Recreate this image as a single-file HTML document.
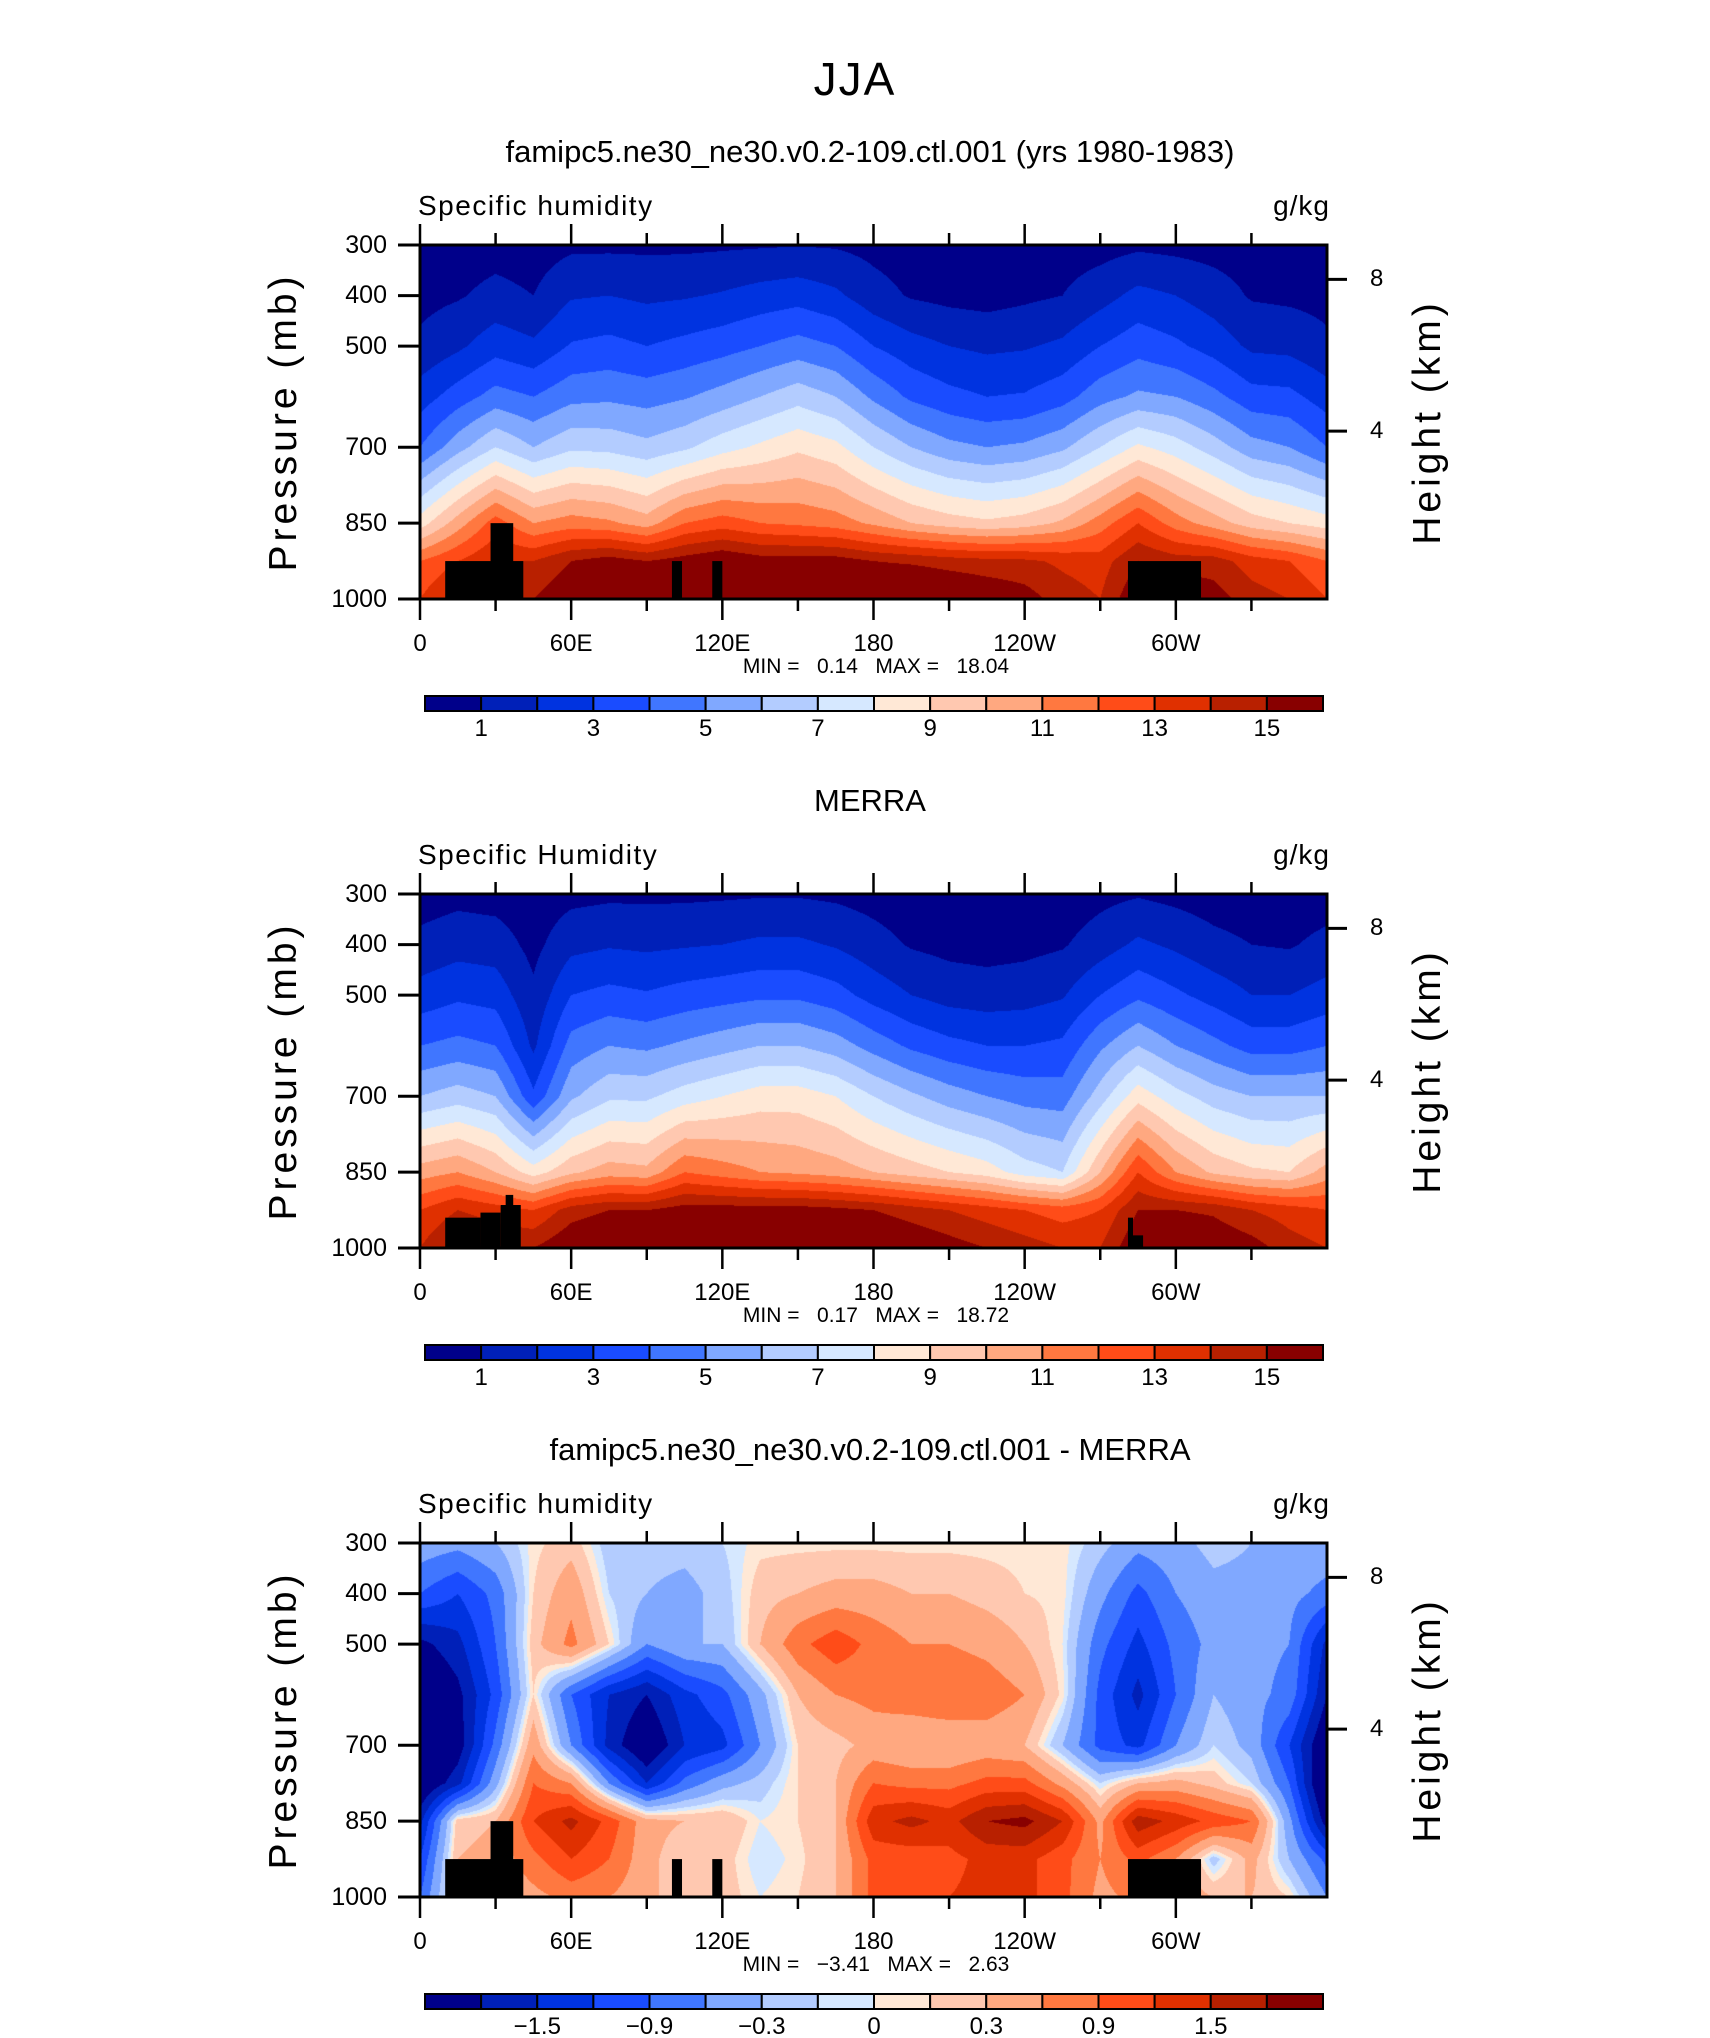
<!DOCTYPE html>
<html><head><meta charset="utf-8">
<style>
html,body{margin:0;padding:0;background:#fff;overflow:hidden;width:1710px;height:2038px;}
#root{position:relative;width:1710px;height:2038px;overflow:hidden;background:#fff;font-family:"Liberation Sans",sans-serif;color:#000;}
.t{position:absolute;white-space:nowrap;}
canvas{position:absolute;}
svg{position:absolute;left:0;top:0;}
</style></head>
<body>
<div id="root">
<div class="t" style="left:0;width:1710px;text-align:center;top:52px;font-size:46px;font-weight:300;letter-spacing:2px;">JJA</div>
<svg id="svg" width="1710" height="2038"></svg>
</div>
<script>
// ---- data ----
const lons = [0,15,30,45,60,75,90,105,120,135,150,165,180,195,210,225,240,255,270,285,300,315,330,345,360];
const levels1 = [300,400,500,600,700,850,925,1000];
const model300 = [0.4,0.5,0.6,0.5,0.8,0.8,0.8,0.8,0.85,0.9,0.95,0.9,0.7,0.5,0.4,0.4,0.4,0.5,0.6,0.8,0.7,0.6,0.5,0.4,0.4];
const model400 = [0.7,0.9,1.3,1.0,1.9,2.0,1.8,1.9,2.1,2.4,2.6,2.2,1.4,0.9,0.7,0.6,0.8,1.0,1.6,2.3,2.0,1.5,0.9,0.8,0.7];
const model500 = [1.2,1.8,2.6,2.2,3.1,3.3,3.0,3.3,3.6,4.0,4.4,4.0,3.0,2.4,2.0,1.8,1.9,2.2,3.0,3.6,3.2,2.6,1.8,1.7,1.2];
const model600 = [2.5,3.5,4.4,4.0,4.7,4.8,4.6,4.9,5.4,6.0,6.6,6.0,4.8,3.8,3.3,3.0,3.1,3.6,4.6,5.2,5.0,4.3,3.4,3.3,2.5];
const model700 = [4.0,5.6,7.0,6.0,6.8,6.7,6.3,6.8,7.6,8.2,8.8,8.3,7.0,6.0,5.3,5.0,5.2,5.8,7.0,8.2,7.5,6.5,5.4,5.0,4.0];
const model850 = [8.5,10.5,12.5,11,11.5,11.2,10.5,12,12.5,12.0,11.8,11.5,10.8,10.0,9.5,9.2,9.5,10.2,11.5,13,11.5,10.5,9.5,9.0,8.5];
const model925 = [12,13,14,14,15,15.5,15,15.5,16,15.5,15.5,15.5,15,14.8,14.5,14.3,14.2,13.8,13.5,15,14.5,14.5,13.5,13,12];
const model1000 = [13,14.5,15,15,16,17,17,17,17,17,17,17,17,17,16.5,16,15.5,14.5,14,16,16,15.5,14.5,14,13];

const obs300 = [0.5,0.7,0.6,0.4,0.7,0.8,0.8,0.8,0.85,0.9,0.9,0.8,0.6,0.4,0.3,0.3,0.3,0.4,0.7,0.9,0.7,0.5,0.4,0.4,0.5];
const obs400 = [1.3,1.6,1.5,0.7,1.7,1.9,1.8,1.9,2.0,2.2,2.2,1.9,1.4,0.9,0.7,0.6,0.7,0.9,1.5,2.2,1.8,1.3,1.0,0.9,1.3];
const obs500 = [2.4,2.8,2.6,1.2,3.0,3.3,3.1,3.4,3.6,3.8,3.8,3.4,2.6,2.0,1.6,1.5,1.6,1.9,3.0,3.8,3.2,2.6,2.0,2.0,2.4];
const obs600 = [4.0,4.3,4.0,1.8,4.4,5.0,4.8,5.2,5.6,6.0,6.0,5.5,4.6,3.8,3.3,3.0,3.0,3.2,4.8,6.0,5.0,4.3,3.6,3.6,4.0];
const obs700 = [6.0,6.5,6.0,3.2,5.8,6.8,6.8,7.5,8.0,8.5,8.5,8.0,7.0,6.2,5.5,5.0,4.6,4.5,6.5,8.6,7.4,6.5,6.0,6.0,6.0];
const obs850 = [10.5,11,10,8.5,9.8,10.5,10.3,12.0,11.5,11.0,10.8,10.5,10.0,9.5,9.0,8.5,7.5,7.0,10,13,11,9.8,9.2,9.0,10.5];
const obs925 = [13,14,13.5,13,14.5,15,15,15.5,15.5,15.5,15.5,15.3,15,14.5,14,13.5,13,12.5,13,15,15,14.8,14,13.5,13];
const obs1000 = [14,15.5,15,15,16,16.5,16.5,16.5,16.5,16.5,16.5,16.5,16.5,16,15.5,15,14.5,14,14,16,16.5,16,15.5,14.5,14];

const levels3 = [300,400,500,600,700,775,850,925,1000];
const diff300 = [-0.4,-0.5,-0.3,0.05,0.2,-0.2,-0.2,-0.2,-0.1,0.05,0.05,0.05,0.05,0.05,0.05,0.05,0.05,0.05,-0.2,-0.5,-0.4,-0.2,-0.3,-0.4,-0.4];
const diff400 = [-0.9,-1.2,-0.8,0.1,0.5,-0.1,-0.3,-0.4,-0.2,0.2,0.3,0.4,0.4,0.3,0.3,0.2,0.1,0.05,-0.5,-1.0,-0.6,-0.4,-0.4,-0.5,-0.7];
const diff500 = [-1.9,-1.6,-0.9,0.2,0.7,0.1,-0.6,-0.3,-0.3,0.3,0.8,1.1,0.8,0.6,0.6,0.5,0.3,0.0,-0.8,-1.3,-0.8,-0.5,-0.5,-0.6,-1.6];
const diff600 = [-2.3,-1.9,-1.1,0.1,-0.9,-1.5,-1.8,-1.3,-1.0,-0.4,0.3,0.6,0.7,0.8,0.9,0.8,0.6,0.05,-1.0,-1.6,-0.9,-0.3,-0.5,-0.7,-1.8];
const diff700 = [-2.5,-2.0,-0.8,0.5,-0.6,-1.6,-2.2,-1.5,-1.3,-0.6,0.1,0.2,0.4,0.3,0.3,0.4,0.3,-0.3,-1.0,-1.3,-0.6,-0.1,-0.4,-1.2,-2.2];
const diff775 = [-2.2,-1.6,-0.4,0.9,0.6,-0.6,-1.5,-0.8,-0.4,-0.2,0.1,0.3,0.9,0.8,0.8,1.0,1.0,0.5,-0.1,0.3,0.4,0.2,-0.1,-0.9,-2.4];
const diff850 = [-1.6,0.2,0.3,1.2,1.6,1.1,0.4,0.3,0.3,0.0,0.1,0.3,1.4,1.6,1.4,1.8,1.9,1.5,0.5,1.7,1.4,1.1,0.9,-0.5,-2.0];
const diff925 = [-1.2,0.3,0.4,0.8,1.2,0.9,0.4,0.1,0.2,-0.1,0.05,0.3,1.0,1.0,1.1,1.3,1.3,1.0,0.6,1.0,0.6,-0.2,0.4,-0.3,-1.0];
const diff1000 = [-0.9,0.3,0.3,0.5,0.7,0.6,0.4,0.1,0.2,0.0,0.1,0.3,1.0,1.1,1.2,1.3,1.3,1.0,0.5,0.7,0.5,0.3,0.3,0.1,-0.6];

const qBounds = [1,2,3,4,5,6,7,8,9,10,11,12,13,14,15];
const dBounds = [-1.8,-1.5,-1.2,-0.9,-0.6,-0.3,-0.1,0,0.1,0.3,0.6,0.9,1.2,1.5,1.8];
const qLabels = ["1","3","5","7","9","11","13","15"];
const qLabelIdx = [1,3,5,7,9,11,13,15];
const dLabels = ["\u22121.5","\u22120.9","\u22120.3","0","0.3","0.9","1.5"];
const dLabelIdx = [2,4,6,8,10,12,14];
const colors = ["#00008a","#0020b8","#0033e0","#1a4cff","#4076ff","#80a8ff","#b3ccff","#d6e8ff","#ffe8d6","#ffc8b0","#ffa880","#ff7840","#ff4c18","#e03000","#b82000","#880000"];
// topography masks: [lonStart, lonEnd, topPressure]
const maskA = [[10,41,925],[28,37,850],[100,104,925],[116,120,925],[281,310,925]];
const maskB = [[10,24,940],[24,32,930],[32,40,915],[34,37,895],[281,283,940],[283,287,975]];
const pTicks = [300,400,500,700,850,1000];
const xTickLabels = ["0","60E","120E","180","120W","60W"];
const xTickLons = [0,60,120,180,240,300];
const hTicks = ["8","4"];
const hTickP = [368,668];

// ---- layout ----
const PL=420, PW=907, PH=354;
const panels = [
 {top:245, rows:[model300,model400,model500,model600,model700,model850,model925,model1000], levels:levels1, bounds:qBounds, labels:qLabels, lidx:qLabelIdx, mask:maskA, title:"famipc5.ne30_ne30.v0.2-109.ctl.001 (yrs 1980-1983)", left:"Specific humidity", minmax:["0.14","18.04"], name:"model"},
 {top:894, rows:[obs300,obs400,obs500,obs600,obs700,obs850,obs925,obs1000], levels:levels1, bounds:qBounds, labels:qLabels, lidx:qLabelIdx, mask:maskB, title:"MERRA", left:"Specific Humidity", minmax:["0.17","18.72"], name:"merra"},
 {top:1543, rows:[diff300,diff400,diff500,diff600,diff700,diff775,diff850,diff925,diff1000], levels:levels3, bounds:dBounds, labels:dLabels, lidx:dLabelIdx, mask:maskA, title:"famipc5.ne30_ne30.v0.2-109.ctl.001 - MERRA", left:"Specific humidity", minmax:["\u22123.41","2.63"], name:"diff"}
];
const root=document.getElementById('root');
const svg=document.getElementById('svg');
const NS="http://www.w3.org/2000/svg";
function xScale(lon){return PL+lon/360*PW;}
function yScale(top,p){return top+(p-300)/700*PH;}
function line(x1,y1,x2,y2,w,name){const l=document.createElementNS(NS,'line');l.setAttribute('x1',x1);l.setAttribute('y1',y1);l.setAttribute('x2',x2);l.setAttribute('y2',y2);l.setAttribute('stroke','#000');l.setAttribute('stroke-width',w);


svg.appendChild(l);}
function rect(x,y,w,h,fill,name,stroke){const r=document.createElementNS(NS,'rect');r.setAttribute('x',x);r.setAttribute('y',y);r.setAttribute('width',w);r.setAttribute('height',h);r.setAttribute('fill',fill);if(stroke){r.setAttribute('stroke',stroke);r.setAttribute('stroke-width',2);}


svg.appendChild(r);}
function text(str,x,y,size,anchor,name,extra){const d=document.createElement('div');d.className='t';d.textContent=str;d.style.fontSize=size+'px';d.style.top=(y-size*0.58)+'px';
if(anchor==='middle'){d.style.left=(x-400)+'px';d.style.width='800px';d.style.textAlign='center';}
else if(anchor==='end'){d.style.left=(x-400)+'px';d.style.width='400px';d.style.textAlign='right';}
else d.style.left=x+'px';
if(extra)Object.assign(d.style,extra);


root.appendChild(d);return d;}
function valueAt(rows,levels,lon,p){
 let j=0;while(j<lons.length-2&&lon>lons[j+1])j++;
 const fx=(lon-lons[j])/(lons[j+1]-lons[j]);
 let i=0;while(i<levels.length-2&&p>levels[i+1])i++;
 const fy=(p-levels[i])/(levels[i+1]-levels[i]);
 const a=rows[i][j]*(1-fx)+rows[i][j+1]*fx;
 const b=rows[i+1][j]*(1-fx)+rows[i+1][j+1]*fx;
 return a*(1-fy)+b*fy;}
function hexRGB(h){return [parseInt(h.substr(1,2),16),parseInt(h.substr(3,2),16),parseInt(h.substr(5,2),16)];}
const rgb=colors.map(hexRGB);

panels.forEach((P,k)=>{
 const top=P.top;
 const c=document.createElement('canvas');c.width=PW;c.height=PH;c.style.left=PL+'px';c.style.top=top+'px';
 
 
 root.insertBefore(c,svg);
 const ctx=c.getContext('2d');const img=ctx.createImageData(PW,PH);
 for(let py=0;py<PH;py++){const p=300+(py+0.5)/PH*700;
  for(let px=0;px<PW;px++){const lon=(px+0.5)/PW*360;const v=valueAt(P.rows,P.levels,lon,p);
   let b=0;while(b<P.bounds.length&&v>=P.bounds[b])b++;
   const col=rgb[b];const o=(py*PW+px)*4;img.data[o]=col[0];img.data[o+1]=col[1];img.data[o+2]=col[2];img.data[o+3]=255;}}
 ctx.putImageData(img,0,0);
 P.mask.forEach((m,mi)=>{const x1=xScale(m[0]),x2=xScale(m[1]);const y1=yScale(top,m[2]);rect(x1,y1,x2-x1,top+PH-y1,'#000','topography-mask');});
 const fr=document.createElementNS(NS,'rect');fr.setAttribute('x',PL);fr.setAttribute('y',top);fr.setAttribute('width',PW);fr.setAttribute('height',PH);fr.setAttribute('fill','none');fr.setAttribute('stroke','#000');fr.setAttribute('stroke-width',3);
 
 
 svg.appendChild(fr);
 for(let lon=0;lon<=330;lon+=30){const x=xScale(lon);const major=lon%60===0;const len=major?21:12;
  line(x,top-len,x,top,2.5,'x-tick-top');line(x,top+PH,x,top+PH+len,2.5,'x-tick-bottom');}
 xTickLabels.forEach((s,i)=>text(s,xScale(xTickLons[i]),top+PH+45,24,'middle','x-tick-label',{fontWeight:'300'}));
 pTicks.forEach(p=>{const y=yScale(top,p);line(PL-22,y,PL,y,3,'y-tick');text(String(p),PL-33,y,25,'end','y-tick-label',{fontWeight:'300'});});
 hTicks.forEach((s,i)=>{const y=yScale(top,hTickP[i]);line(PL+PW,y,PL+PW+20,y,3,'height-tick');text(s,PL+PW+43,y,24,'start','height-tick-label');});
 text(P.title,870,top-93,31,'middle','panel-title');
 text(P.left,418,top-39,28,'start','variable-label',{fontWeight:'300',letterSpacing:'1.5px'});
 text('g/kg',1330,top-39,28,'end','units-label',{fontWeight:'300',letterSpacing:'1px'});
 text('MIN =   '+P.minmax[0]+'   MAX =   '+P.minmax[1],876,top+PH+68,21,'middle','min-max-label',{whiteSpace:'pre'});
 text('Pressure (mb)',284,top+178,39,'middle','y-axis-title',{transform:'rotate(-90deg)',letterSpacing:'4px',fontWeight:'300'});
 text('Height (km)',1428,top+178,39,'middle','right-axis-title',{transform:'rotate(-90deg)',letterSpacing:'4px',fontWeight:'300'});
 const cbL=425,cbW=898,cbT=top+451,cbH=15,bw=cbW/16;
 colors.forEach((col,i)=>rect(cbL+i*bw,cbT,bw,cbH,col,'colorbar-box','#000'));
 P.labels.forEach((s,i)=>text(s,cbL+P.lidx[i]*bw,cbT+33,24,'middle','colorbar-label',{fontWeight:'300'}));
});
</script>
</body></html>
